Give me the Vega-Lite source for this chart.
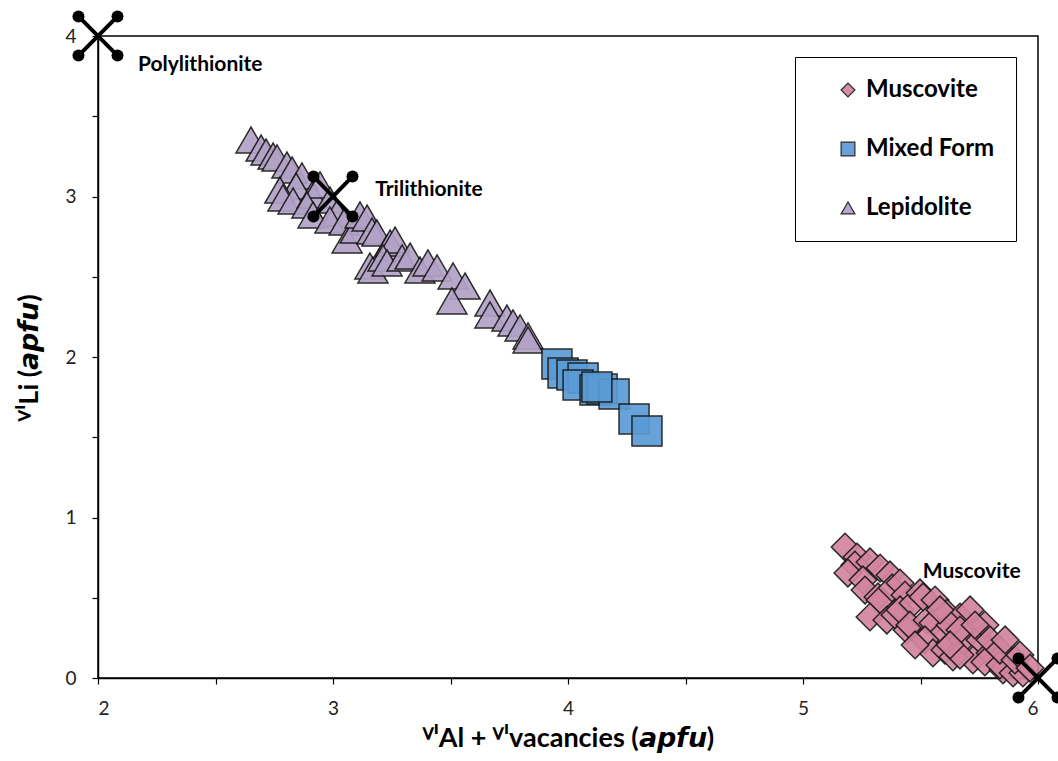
{
  "$schema": "https://vega.github.io/schema/vega-lite/v6.json",
  "width": 940,
  "height": 642,
  "autosize": {"type": "none"},
  "padding": {"left": 98, "top": 36, "right": 20, "bottom": 83},
  "background": "white",
  "config": {
    "view": {"stroke": "black", "strokeWidth": 1.5},
    "font": "Lato"
  },
  "datasets": {
    "samples": [
      {"type": "Lepidolite", "x": 2.651, "y": 3.352},
      {"type": "Lepidolite", "x": 2.694, "y": 3.302},
      {"type": "Lepidolite", "x": 2.715, "y": 3.277},
      {"type": "Lepidolite", "x": 2.745, "y": 3.252},
      {"type": "Lepidolite", "x": 2.762, "y": 3.240},
      {"type": "Lepidolite", "x": 2.804, "y": 3.196},
      {"type": "Lepidolite", "x": 2.826, "y": 3.165},
      {"type": "Lepidolite", "x": 2.868, "y": 3.128},
      {"type": "Lepidolite", "x": 2.843, "y": 3.065},
      {"type": "Lepidolite", "x": 2.774, "y": 3.040},
      {"type": "Lepidolite", "x": 2.787, "y": 2.991},
      {"type": "Lepidolite", "x": 2.830, "y": 2.972},
      {"type": "Lepidolite", "x": 2.911, "y": 3.009},
      {"type": "Lepidolite", "x": 2.945, "y": 3.072},
      {"type": "Lepidolite", "x": 2.889, "y": 2.947},
      {"type": "Lepidolite", "x": 2.915, "y": 2.885},
      {"type": "Lepidolite", "x": 2.987, "y": 2.978},
      {"type": "Lepidolite", "x": 3.017, "y": 2.897},
      {"type": "Lepidolite", "x": 2.987, "y": 2.854},
      {"type": "Lepidolite", "x": 3.047, "y": 2.841},
      {"type": "Lepidolite", "x": 3.060, "y": 2.729},
      {"type": "Lepidolite", "x": 3.094, "y": 2.791},
      {"type": "Lepidolite", "x": 3.115, "y": 2.885},
      {"type": "Lepidolite", "x": 3.145, "y": 2.866},
      {"type": "Lepidolite", "x": 3.166, "y": 2.785},
      {"type": "Lepidolite", "x": 3.187, "y": 2.773},
      {"type": "Lepidolite", "x": 3.230, "y": 2.679},
      {"type": "Lepidolite", "x": 3.243, "y": 2.710},
      {"type": "Lepidolite", "x": 3.264, "y": 2.729},
      {"type": "Lepidolite", "x": 3.157, "y": 2.567},
      {"type": "Lepidolite", "x": 3.170, "y": 2.542},
      {"type": "Lepidolite", "x": 3.213, "y": 2.617},
      {"type": "Lepidolite", "x": 3.230, "y": 2.586},
      {"type": "Lepidolite", "x": 3.294, "y": 2.617},
      {"type": "Lepidolite", "x": 3.328, "y": 2.629},
      {"type": "Lepidolite", "x": 3.370, "y": 2.542},
      {"type": "Lepidolite", "x": 3.404, "y": 2.586},
      {"type": "Lepidolite", "x": 3.443, "y": 2.555},
      {"type": "Lepidolite", "x": 3.511, "y": 2.505},
      {"type": "Lepidolite", "x": 3.562, "y": 2.442},
      {"type": "Lepidolite", "x": 3.506, "y": 2.349},
      {"type": "Lepidolite", "x": 3.668, "y": 2.336},
      {"type": "Lepidolite", "x": 3.668, "y": 2.262},
      {"type": "Lepidolite", "x": 3.740, "y": 2.243},
      {"type": "Lepidolite", "x": 3.766, "y": 2.212},
      {"type": "Lepidolite", "x": 3.796, "y": 2.181},
      {"type": "Lepidolite", "x": 3.830, "y": 2.131},
      {"type": "Lepidolite", "x": 3.830, "y": 2.106},
      {"type": "Mixed Form", "x": 3.953, "y": 1.956},
      {"type": "Mixed Form", "x": 3.979, "y": 1.900},
      {"type": "Mixed Form", "x": 4.017, "y": 1.888},
      {"type": "Mixed Form", "x": 4.064, "y": 1.869},
      {"type": "Mixed Form", "x": 4.043, "y": 1.826},
      {"type": "Mixed Form", "x": 4.115, "y": 1.794},
      {"type": "Mixed Form", "x": 4.145, "y": 1.801},
      {"type": "Mixed Form", "x": 4.196, "y": 1.769},
      {"type": "Mixed Form", "x": 4.123, "y": 1.813},
      {"type": "Mixed Form", "x": 4.281, "y": 1.614},
      {"type": "Mixed Form", "x": 4.336, "y": 1.539},
      {"type": "Muscovite", "x": 5.179, "y": 0.816},
      {"type": "Muscovite", "x": 5.230, "y": 0.754},
      {"type": "Muscovite", "x": 5.221, "y": 0.704},
      {"type": "Muscovite", "x": 5.285, "y": 0.723},
      {"type": "Muscovite", "x": 5.191, "y": 0.654},
      {"type": "Muscovite", "x": 5.255, "y": 0.611},
      {"type": "Muscovite", "x": 5.328, "y": 0.685},
      {"type": "Muscovite", "x": 5.370, "y": 0.642},
      {"type": "Muscovite", "x": 5.264, "y": 0.548},
      {"type": "Muscovite", "x": 5.319, "y": 0.505},
      {"type": "Muscovite", "x": 5.328, "y": 0.486},
      {"type": "Muscovite", "x": 5.379, "y": 0.561},
      {"type": "Muscovite", "x": 5.413, "y": 0.592},
      {"type": "Muscovite", "x": 5.434, "y": 0.517},
      {"type": "Muscovite", "x": 5.285, "y": 0.380},
      {"type": "Muscovite", "x": 5.357, "y": 0.361},
      {"type": "Muscovite", "x": 5.391, "y": 0.393},
      {"type": "Muscovite", "x": 5.413, "y": 0.424},
      {"type": "Muscovite", "x": 5.468, "y": 0.467},
      {"type": "Muscovite", "x": 5.498, "y": 0.530},
      {"type": "Muscovite", "x": 5.443, "y": 0.299},
      {"type": "Muscovite", "x": 5.455, "y": 0.330},
      {"type": "Muscovite", "x": 5.528, "y": 0.361},
      {"type": "Muscovite", "x": 5.511, "y": 0.505},
      {"type": "Muscovite", "x": 5.562, "y": 0.486},
      {"type": "Muscovite", "x": 5.553, "y": 0.343},
      {"type": "Muscovite", "x": 5.613, "y": 0.405},
      {"type": "Muscovite", "x": 5.668, "y": 0.380},
      {"type": "Muscovite", "x": 5.711, "y": 0.424},
      {"type": "Muscovite", "x": 5.596, "y": 0.280},
      {"type": "Muscovite", "x": 5.626, "y": 0.330},
      {"type": "Muscovite", "x": 5.519, "y": 0.237},
      {"type": "Muscovite", "x": 5.681, "y": 0.237},
      {"type": "Muscovite", "x": 5.753, "y": 0.237},
      {"type": "Muscovite", "x": 5.723, "y": 0.112},
      {"type": "Muscovite", "x": 5.796, "y": 0.156},
      {"type": "Muscovite", "x": 5.774, "y": 0.330},
      {"type": "Muscovite", "x": 5.774, "y": 0.100},
      {"type": "Muscovite", "x": 5.851, "y": 0.050},
      {"type": "Muscovite", "x": 5.838, "y": 0.081},
      {"type": "Muscovite", "x": 5.894, "y": 0.031},
      {"type": "Muscovite", "x": 5.936, "y": 0.031},
      {"type": "Muscovite", "x": 5.553, "y": 0.156},
      {"type": "Muscovite", "x": 5.604, "y": 0.174},
      {"type": "Muscovite", "x": 5.638, "y": 0.131},
      {"type": "Muscovite", "x": 5.668, "y": 0.143},
      {"type": "Muscovite", "x": 5.668, "y": 0.299},
      {"type": "Muscovite", "x": 5.796, "y": 0.237},
      {"type": "Muscovite", "x": 5.838, "y": 0.174},
      {"type": "Muscovite", "x": 5.860, "y": 0.237},
      {"type": "Muscovite", "x": 5.902, "y": 0.112},
      {"type": "Muscovite", "x": 5.923, "y": 0.143},
      {"type": "Muscovite", "x": 5.626, "y": 0.206},
      {"type": "Muscovite", "x": 5.732, "y": 0.330},
      {"type": "Muscovite", "x": 5.583, "y": 0.424},
      {"type": "Muscovite", "x": 5.477, "y": 0.206},
      {"type": "Muscovite", "x": 5.966, "y": 0.062}
    ],
    "crosses": [
      {"name": "Polylithionite", "x": 1.917, "y": 4.122, "x2": 2.083, "y2": 3.878},
      {"name": "Polylithionite", "x": 1.917, "y": 3.878, "x2": 2.083, "y2": 4.122},
      {"name": "Trilithionite", "x": 2.917, "y": 3.125, "x2": 3.083, "y2": 2.875},
      {"name": "Trilithionite", "x": 2.917, "y": 2.875, "x2": 3.083, "y2": 3.125},
      {"name": "Muscovite", "x": 5.917, "y": 0.122, "x2": 6.083, "y2": -0.122},
      {"name": "Muscovite", "x": 5.917, "y": -0.122, "x2": 6.083, "y2": 0.122}
    ],
    "labels": [
      {"label": "Polylithionite", "x": 2.17, "y": 3.82},
      {"label": "Trilithionite", "x": 3.18, "y": 3.04},
      {"label": "Muscovite", "x": 5.51, "y": 0.66}
    ]
  },
  "encoding": {
    "x": {
      "field": "x", "type": "quantitative",
      "scale": {"domain": [2, 6], "nice": false, "zero": false},
      "axis": {
        "title": "ⱽᴵAl + ⱽᴵvacancies (𝙖𝙥𝙛𝙪)",
        "values": [2, 2.5, 3, 3.5, 4, 4.5, 5, 5.5, 6],
        "labelExpr": "datum.value % 1 === 0 ? format(datum.value, 'd') : ''",
        "grid": false,
        "domainColor": "black", "domainWidth": 1.5,
        "tickColor": "black", "tickSize": 6, "tickWidth": 1.2,
        "labelFontSize": 19, "labelColor": "#222", "labelPadding": 15, "labelFont": "Lato",
        "titleFontSize": 27, "titleFontWeight": "bold", "titleColor": "black", "titlePadding": 7, "titleFont": "Lato"
      }
    },
    "y": {
      "field": "y", "type": "quantitative",
      "scale": {"domain": [0, 4], "nice": false, "zero": false},
      "axis": {
        "title": "ⱽᴵLi (𝙖𝙥𝙛𝙪)",
        "values": [0, 0.5, 1, 1.5, 2, 2.5, 3, 3.5, 4],
        "labelExpr": "datum.value % 1 === 0 ? format(datum.value, 'd') : ''",
        "grid": false,
        "domainColor": "black", "domainWidth": 1.5,
        "tickColor": "black", "tickSize": 6, "tickWidth": 1.2,
        "labelFontSize": 19, "labelColor": "#222", "labelPadding": 16, "labelFont": "Lato",
        "titleFontSize": 27, "titleFontWeight": "bold", "titleColor": "black", "titlePadding": 21, "titleFont": "Lato"
      }
    }
  },
  "layer": [
    {
      "data": {"name": "samples"},
      "transform": [{"filter": "datum.type === 'Muscovite'"}],
      "mark": {"type": "point", "filled": true, "opacity": 0.92, "stroke": "#1a1a1a", "strokeWidth": 1.5, "size": 760},
      "encoding": {
        "color": {
          "field": "type", "type": "nominal",
          "scale": {"domain": ["Muscovite", "Mixed Form", "Lepidolite"], "range": ["#D3849F", "#5B9BD5", "#B3A2C7"]},
          "legend": {
            "title": null, "orient": "none", "legendX": 697, "legendY": 21,
            "strokeColor": "black", "fillColor": "white", "padding": 21,
            "labelFontSize": 24, "labelFontWeight": "bold", "labelColor": "black", "labelFont": "Lato",
            "symbolSize": 190, "symbolStrokeColor": "black", "symbolStrokeWidth": 1.2, "symbolOpacity": 1,
            "rowPadding": 35, "labelOffset": 6, "symbolOffset": 20
          }
        },
        "shape": {
          "field": "type", "type": "nominal",
          "scale": {"domain": ["Muscovite", "Mixed Form", "Lepidolite"], "range": ["diamond", "square", "triangle-up"]}
        }
      }
    },
    {
      "data": {"name": "samples"},
      "transform": [{"filter": "datum.type !== 'Muscovite'"}],
      "mark": {"type": "point", "filled": true, "opacity": 0.92, "stroke": "#1a1a1a", "strokeWidth": 1.5, "size": 900},
      "encoding": {
        "color": {"field": "type", "type": "nominal"},
        "shape": {"field": "type", "type": "nominal"}
      }
    },
    {
      "data": {"name": "crosses"},
      "mark": {"type": "rule", "color": "black", "strokeWidth": 4},
      "encoding": {
        "x2": {"field": "x2"},
        "y2": {"field": "y2"}
      }
    },
    {
      "data": {"name": "crosses"},
      "mark": {"type": "circle", "color": "black", "opacity": 1, "size": 144},
      "encoding": {}
    },
    {
      "data": {"name": "crosses"},
      "mark": {"type": "circle", "color": "black", "opacity": 1, "size": 144},
      "encoding": {
        "x": {"field": "x2", "type": "quantitative"},
        "y": {"field": "y2", "type": "quantitative"}
      }
    },
    {
      "data": {"name": "labels"},
      "mark": {"type": "text", "align": "left", "baseline": "middle", "fontSize": 21, "fontWeight": "bold", "font": "Lato", "color": "black"},
      "encoding": {
        "text": {"field": "label"}
      }
    }
  ]
}
